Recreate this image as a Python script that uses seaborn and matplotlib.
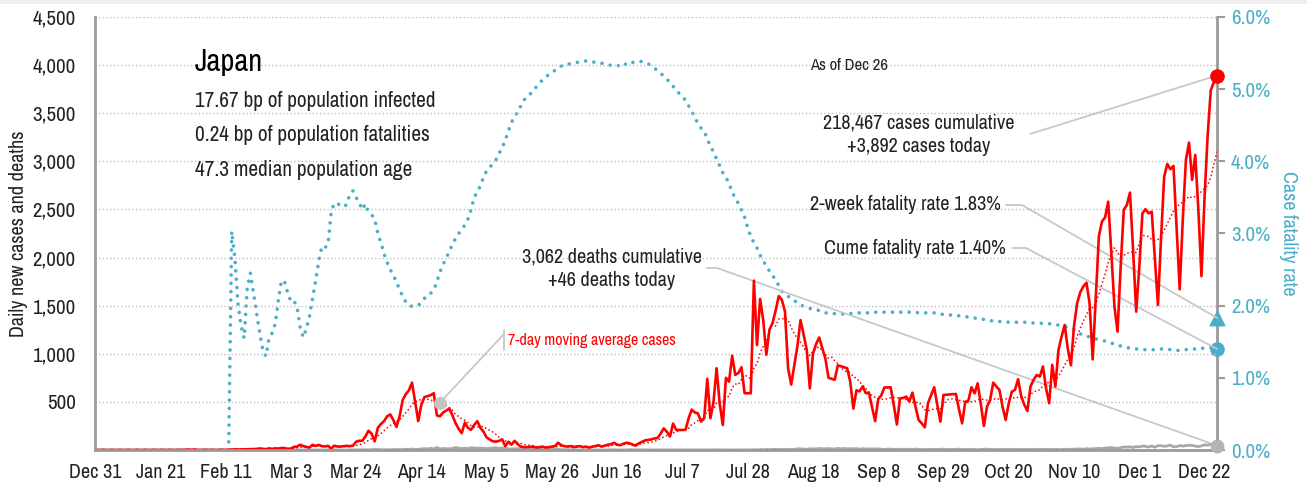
import numpy as np
import pandas as pd
import matplotlib
matplotlib.use('Agg')
import matplotlib.pyplot as plt
import matplotlib.dates as mdates
from matplotlib.lines import Line2D
from matplotlib.patches import Rectangle
from matplotlib.ticker import FuncFormatter
import seaborn as sns

# ---- data, Dec 31 2019 .. Dec 26 2020 ----
start_date = '2019-12-31'
country = 'Japan'
total_cases = 218467
total_deaths = 3062
infected_bp = 17.67
fatal_bp = 0.24
median_age = 47.3
two_week_cfr = 1.83

cases_jan = [0] + [0] * 15 + [1] + [0] * 7 + [1, 1, 1, 0, 2, 1, 4, 2]
cases_feb = [5, 0, 0, 0, 2, 0, 0, 0, 0, 3, 0, 3, 4, 8, 5, 6, 7, 7, 8, 9, 11, 16, 12, 9, 17, 12, 17, 15, 21]
cases_mar = [20, 12, 14, 33, 35, 54, 41, 32, 26, 54, 42, 53, 40, 37, 42, 15, 44, 36, 36, 39, 43, 40, 45,
             86, 96, 96, 140, 200, 170, 90, 230]
cases_apr = [270, 300, 350, 370, 310, 240, 350, 520, 580, 620, 700, 500, 300, 470, 550, 560, 570, 590,
             360, 350, 390, 410, 430, 360, 280, 220, 175, 285, 230, 210]
cases_may = [260, 300, 230, 190, 130, 110, 90, 87, 95, 110, 40, 85, 55, 95, 60, 35, 30, 30, 32, 35, 25,
             30, 35, 25, 30, 35, 40, 75, 50, 40, 35]
cases_jun = [40, 30, 35, 40, 30, 35, 25, 35, 40, 50, 35, 45, 55, 60, 75, 55, 50, 65, 75, 70, 55, 45,
             70, 85, 100, 105, 110, 120, 125, 170]
cases_jul = [225, 190, 140, 275, 210, 208, 208, 210, 330, 420, 390, 380, 295, 330, 740, 330, 500, 850,
             480, 260, 750, 710, 980, 780, 800, 860, 590, 590, 590, 1760, 1090]
cases_aug = [1570, 1350, 990, 1250, 1320, 1450, 1600, 1560, 1440, 850, 680, 880, 1080, 1350, 1200, 1040,
             640, 1000, 1100, 1170, 1060, 950, 750, 740, 730, 880, 870, 860, 850, 710, 430]
cases_sep = [620, 610, 660, 590, 595, 450, 300, 530, 570, 650, 650, 652, 470, 265, 537, 540, 555, 503,
             596, 450, 312, 277, 236, 485, 570, 652, 470, 295, 572, 575]
cases_oct = [578, 580, 582, 420, 277, 500, 513, 652, 589, 693, 480, 250, 450, 520, 700, 660, 625, 450,
             312, 486, 607, 625, 736, 560, 470, 406, 660, 730, 780, 763, 868]
cases_nov = [642, 486, 885, 660, 1041, 1180, 1300, 1050, 880, 1290, 1525, 1639, 1700, 1739, 1525, 942,
             1577, 2224, 2374, 2419, 2581, 2050, 1490, 1230, 1900, 2495, 2547, 2675, 2080, 1438]
cases_dec = [1900, 2460, 2502, 2460, 2477, 2000, 1507, 2200, 2841, 2973, 2918, 2952, 2300, 1670, 2400,
             3015, 3195, 2807, 3067, 2500, 1806, 2633, 3271, 3740, 3823, 3892]

deaths_jan = [0] * 32
deaths_feb = [0] * 12 + [1] + [0, 0, 0, 0, 0, 0, 1, 0, 0, 1, 0, 1, 1, 0, 0, 1]
deaths_mar = [0, 1, 0, 0, 1, 0, 0, 2, 1, 0, 1, 0, 0, 2, 1, 0, 0, 2, 1, 1, 0, 3, 1, 2, 1, 2, 3, 1, 3, 5, 4]
deaths_apr = [3, 2, 3, 4, 4, 5, 3, 5, 8, 7, 10, 5, 8, 12, 14, 11, 18, 12, 27, 11, 15, 13, 12, 16, 26,
              20, 15, 19, 15, 24]
deaths_may = [20, 18, 20, 19, 14, 18, 20, 23, 19, 21, 17, 11, 11, 14, 12, 14, 13, 15, 8, 11, 9, 9, 4, 5,
              6, 8, 6, 9, 3, 4, 3]
deaths_jun = [2, 2, 1, 1, 1, 2, 3, 1, 1, 2, 0, 1, 1, 3, 1, 0, 1, 1, 1, 3, 2, 0, 1, 2, 2, 0, 1, 1, 1, 1]
deaths_jul = [2, 1, 0, 0, 1, 0, 2, 1, 0, 1, 1, 1, 0, 1, 0, 0, 2, 1, 3, 0, 2, 1, 1, 0, 1, 1, 2, 2, 0, 3, 1]
deaths_aug = [5, 2, 6, 4, 5, 7, 4, 6, 4, 7, 6, 5, 13, 12, 9, 7, 13, 11, 12, 16, 13, 12, 15, 13, 10, 17,
              13, 16, 12, 14, 11]
deaths_sep = [15, 9, 13, 12, 10, 12, 9, 13, 8, 6, 10, 8, 7, 8, 8, 5, 9, 6, 7, 10, 6, 4, 5, 7, 7, 6, 6, 8, 9, 5]
deaths_oct = [6, 5, 7, 9, 4, 6, 5, 8, 5, 3, 6, 8, 9, 6, 4, 5, 6, 7, 5, 4, 8, 6, 5, 6, 4, 7, 5, 6, 5, 8, 7]
deaths_nov = [6, 5, 7, 8, 4, 5, 8, 6, 7, 9, 10, 11, 8, 13, 10, 12, 15, 18, 13, 20, 22, 25, 20, 17, 24,
              31, 29, 33, 26, 35]
deaths_dec = [32, 41, 38, 30, 42, 29, 45, 45, 38, 43, 50, 33, 35, 46, 41, 45, 50, 47, 40, 35, 43, 53,
              51, 57, 46, 46]

# cumulative case fatality rate, %
cfr_jan = [0.0] * 32
cfr_feb = [0.0] * 12 + [3.03, 2.66, 2.03, 1.72, 1.55, 2.25, 2.45, 2.17, 1.88, 1.62, 1.38, 1.30, 1.55,
                        1.62, 1.75, 2.08, 2.35]
cfr_mar = [2.33, 2.18, 2.06, 2.07, 1.98, 1.70, 1.56, 1.68, 1.85, 2.10, 2.35, 2.62, 2.82, 2.80, 2.86,
           3.30, 3.42, 3.42, 3.38, 3.37, 3.40, 3.55, 3.59, 3.50, 3.43, 3.33, 3.41, 3.30, 3.26, 3.20, 3.00]
cfr_apr = [2.87, 2.72, 2.60, 2.50, 2.42, 2.33, 2.22, 2.13, 2.05, 2.01, 1.99, 1.99, 2.00, 2.05, 2.10,
           2.15, 2.17, 2.22, 2.33, 2.47, 2.57, 2.66, 2.75, 2.85, 2.93, 3.00, 3.05, 3.12, 3.20, 3.33]
cfr_may = [3.50, 3.58, 3.66, 3.78, 3.87, 3.92, 3.96, 4.02, 4.11, 4.19, 4.29, 4.42, 4.54, 4.63, 4.68,
           4.77, 4.85, 4.89, 4.93, 4.99, 5.03, 5.08, 5.13, 5.17, 5.20, 5.23, 5.26, 5.29, 5.32, 5.34, 5.35]
cfr_jun = [5.35, 5.36, 5.37, 5.38, 5.39, 5.39, 5.38, 5.38, 5.37, 5.37, 5.36, 5.35, 5.34, 5.33, 5.33,
           5.33, 5.32, 5.31, 5.36, 5.38, 5.37, 5.38, 5.39, 5.38, 5.37, 5.35, 5.32, 5.29, 5.26, 5.22]
cfr_jul = [5.18, 5.14, 5.09, 5.04, 4.98, 4.94, 4.89, 4.85, 4.77, 4.69, 4.61, 4.52, 4.46, 4.42, 4.31,
           4.21, 4.13, 4.03, 3.94, 3.84, 3.78, 3.69, 3.58, 3.48, 3.42, 3.32, 3.23, 3.08, 2.96, 2.87, 2.80]
cfr_aug = [2.70, 2.62, 2.55, 2.48, 2.42, 2.35, 2.28, 2.20, 2.16, 2.13, 2.10, 2.07, 2.04, 2.01, 1.99,
           1.97, 1.96, 1.96, 1.95, 1.93, 1.92, 1.90, 1.90, 1.89, 1.89, 1.89, 1.89, 1.88, 1.88, 1.89, 1.89]
cfr_sep = [1.90, 1.90, 1.90, 1.90, 1.90, 1.90, 1.91, 1.91, 1.91, 1.91, 1.91, 1.91, 1.91, 1.91, 1.91,
           1.91, 1.91, 1.91, 1.91, 1.91, 1.90, 1.90, 1.90, 1.90, 1.90, 1.90, 1.89, 1.88, 1.88, 1.88]
cfr_oct = [1.87, 1.87, 1.86, 1.86, 1.86, 1.85, 1.84, 1.84, 1.83, 1.82, 1.81, 1.81, 1.80, 1.79, 1.79,
           1.78, 1.78, 1.78, 1.78, 1.77, 1.77, 1.77, 1.77, 1.77, 1.77, 1.77, 1.76, 1.76, 1.76, 1.76, 1.75]
cfr_nov = [1.75, 1.75, 1.75, 1.74, 1.73, 1.72, 1.71, 1.70, 1.69, 1.67, 1.65, 1.61, 1.59, 1.57, 1.57,
           1.56, 1.54, 1.53, 1.52, 1.51, 1.50, 1.48, 1.47, 1.46, 1.44, 1.43, 1.42, 1.41, 1.40, 1.40]
cfr_dec = [1.40, 1.39, 1.39, 1.39, 1.39, 1.39, 1.40, 1.40, 1.40, 1.40, 1.39, 1.39, 1.38, 1.38, 1.39,
           1.39, 1.40, 1.40, 1.40, 1.40, 1.41, 1.41, 1.41, 1.42, 1.42, 1.40]

cases = (cases_jan + cases_feb + cases_mar + cases_apr + cases_may + cases_jun + cases_jul + cases_aug
         + cases_sep + cases_oct + cases_nov + cases_dec)
deaths = (deaths_jan + deaths_feb + deaths_mar + deaths_apr + deaths_may + deaths_jun + deaths_jul
          + deaths_aug + deaths_sep + deaths_oct + deaths_nov + deaths_dec)
cfr = (cfr_jan + cfr_feb + cfr_mar + cfr_apr + cfr_may + cfr_jun + cfr_jul + cfr_aug + cfr_sep
       + cfr_oct + cfr_nov + cfr_dec)

df = pd.DataFrame({'date': pd.date_range(start_date, periods=len(cases), freq='D'),
                   'cases': cases, 'deaths': deaths, 'cfr': cfr})
df['ma7'] = df['cases'].rolling(7).mean()
ma_label_idx = 111

# ---- style ----
red = '#ff0000'
teal = '#4aaec8'
grey_line = '#a8a8a8'
conn = '#c8c8c8'
spine_c = '#9a9a9a'
text_c = '#222222'

sns.set_style('white')
plt.rcParams['font.family'] = ['Archivo Narrow', 'Roboto Condensed', 'PT Sans Narrow', 'DejaVu Sans']

W, H = 1307, 488
fig = plt.figure(figsize=(W / 100, H / 100), dpi=100)
fig.add_artist(Rectangle((0, 1 - 4 / H), 1, 4 / H, transform=fig.transFigure, color='#eeeeee', lw=0))
ax = fig.add_axes([95 / W, 1 - 450 / H, (1217 - 95) / W, (450 - 17) / H])
ax2 = ax.twinx()

sns.lineplot(data=df, x='date', y='cfr', ax=ax2, color=teal, lw=2.6,
             linestyle=(0, (0.01, 2.3)), dash_capstyle='round')
sns.lineplot(data=df, x='date', y='deaths', ax=ax, color=grey_line, lw=2)
sns.lineplot(data=df, x='date', y='ma7', ax=ax, color=red, lw=1.3,
             linestyle=(0, (0.01, 2.2)), dash_capstyle='round')
sns.lineplot(data=df, x='date', y='cases', ax=ax, color=red, lw=1.9)

ax.set_zorder(ax2.get_zorder() + 1)
ax.patch.set_visible(False)

last = df.iloc[-1]
ax.scatter([last['date']], [last['cases']], s=90, color=red, zorder=6, clip_on=False)
ax.scatter([last['date']], [last['deaths']], s=80, color='#b4b4b4', zorder=6, clip_on=False)
ax2.scatter([last['date']], [two_week_cfr], s=110, marker='^', color=teal, zorder=6, clip_on=False)
ax2.scatter([last['date']], [last['cfr']], s=90, color=teal, zorder=6, clip_on=False)
ma_pt = df.iloc[ma_label_idx]
ax.scatter([ma_pt['date']], [ma_pt['ma7']], s=70, color='#c4c4c4', zorder=6)

# axes
ax.set_xlim(df['date'].iloc[0], df['date'].iloc[-1])
ax.set_ylim(0, 4500)
ax2.set_ylim(0, 6)
ax.set_yticks(np.arange(0, 4501, 500))
ax.yaxis.set_major_formatter(FuncFormatter(lambda v, p: '' if v == 0 else f'{v:,.0f}'))
ax2.set_yticks(np.arange(0, 6.01, 1))
ax2.yaxis.set_major_formatter(FuncFormatter(lambda v, p: f'{v:.1f}%'))
xt = df['date'].iloc[::21]
ax.set_xticks(xt)
ax.set_xticklabels([f'{d:%b} {d.day}' for d in xt])
ax.set_xlabel('')
ax.set_ylabel('Daily new cases and deaths', fontsize=14.5, color=text_c, labelpad=3)
ax2.set_ylabel('Case fatality rate', fontsize=14.5, color=teal, rotation=270, labelpad=20)

ax.grid(axis='y', linestyle=':', color='#bdbdbd', lw=1)
for s in ['top', 'right']:
    ax.spines[s].set_visible(False)
for s in ['top', 'left', 'bottom']:
    ax2.spines[s].set_visible(False)
for s in ['left', 'bottom']:
    ax.spines[s].set_color(spine_c)
    ax.spines[s].set_linewidth(2)
ax2.spines['right'].set_color(spine_c)
ax2.spines['right'].set_linewidth(2)
ax.tick_params(axis='x', length=5, width=1.2, color=spine_c, labelsize=14.5, labelcolor=text_c, pad=4)
ax.tick_params(axis='y', length=0, labelsize=15, labelcolor=text_c, pad=14)
ax2.tick_params(axis='y', length=6, width=1.5, color=spine_c, labelsize=15, labelcolor=teal, pad=4)


# ---- annotations ----
def fpx(x, y):
    return x / W, 1 - y / H


def fdata(axis, x, y):
    disp = axis.transData.transform((mdates.date2num(x), y))
    return fig.transFigure.inverted().transform(disp)


def connector(px_points, end):
    pts = [fpx(*p) for p in px_points] + [tuple(end)]
    xs, ys = zip(*pts)
    fig.add_artist(Line2D(xs, ys, color=conn, lw=1.3, transform=fig.transFigure, zorder=1))


fig.text(*fpx(195, 62), country, fontsize=22, color='black', va='center')
fig.text(*fpx(195, 101), f'{infected_bp:.2f} bp of population infected', fontsize=15.3, color=text_c, va='center')
fig.text(*fpx(195, 135), f'{fatal_bp:.2f} bp of population fatalities', fontsize=15.3, color=text_c, va='center')
fig.text(*fpx(195, 170), f'{median_age:.1f} median population age', fontsize=15.3, color=text_c, va='center')
fig.text(*fpx(849, 66), f"As of {last['date']:%b} {last['date'].day}", fontsize=12, color=text_c,
         ha='center', va='center')

fig.text(*fpx(919, 135), f"{total_cases:,} cases cumulative\n+{last['cases']:,.0f} cases today",
         fontsize=14.5, color=text_c, ha='center', va='center', linespacing=1.3)
connector([(1030, 134)], fdata(ax, last['date'], last['cases']))

fig.text(*fpx(1001, 205), f'2-week fatality rate {two_week_cfr:.2f}%', fontsize=14.5, color=text_c,
         ha='right', va='center')
connector([(1006, 205), (1022, 205)], fdata(ax2, last['date'], two_week_cfr))

fig.text(*fpx(1006, 248), f"Cume fatality rate {last['cfr']:.2f}%", fontsize=14.5, color=text_c,
         ha='right', va='center')
connector([(1012, 248), (1026, 248)], fdata(ax2, last['date'], last['cfr']))

fig.text(*fpx(612, 269), f"{total_deaths:,} deaths cumulative\n+{last['deaths']:,.0f} deaths today",
         fontsize=14.5, color=text_c, ha='center', va='center', linespacing=1.3)
connector([(707, 268), (717, 268)], fdata(ax, last['date'], last['deaths']))

fig.text(*fpx(508, 340), '7-day moving average cases', fontsize=11.5, color=red, va='center')
fig.add_artist(Line2D(*zip(fpx(504, 330), fpx(504, 350)), color=conn, lw=1.3, transform=fig.transFigure))
connector([(504, 334)], fdata(ax, ma_pt['date'], ma_pt['ma7']))

fig.savefig('out.png', dpi=100)
